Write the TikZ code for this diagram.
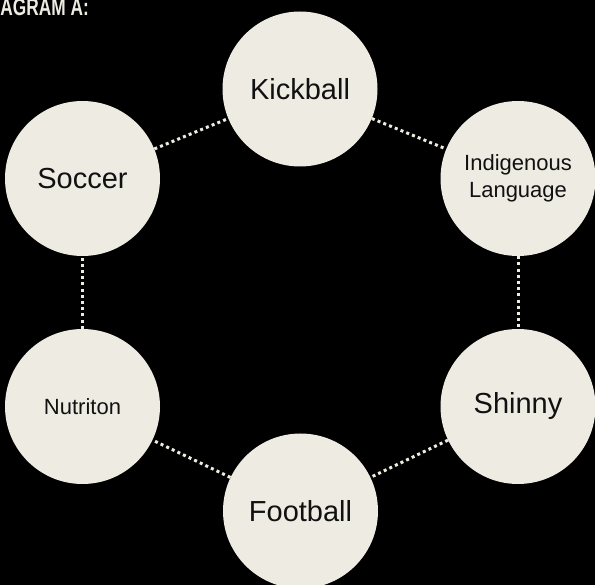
\documentclass[tikz,border=0pt]{standalone}
\usepackage{fontspec}
\setmainfont{Liberation Sans}
\definecolor{cream}{HTML}{EEECE2}
\definecolor{ink}{HTML}{111111}
\begin{document}
\begin{tikzpicture}[x=1pt,y=-1pt,
  bubble/.style={circle,fill=cream,draw=none,minimum size=155pt,inner sep=0pt,text=ink,align=center},
  big/.style={font=\fontsize{29}{33}\selectfont},
  small/.style={font=\fontsize{22}{27}\selectfont},
  dotline/.style={draw=cream,line width=3pt,dash pattern=on 3pt off 3.2pt}]
\fill[black] (0,0) rectangle (595,585);
\useasboundingbox (0,0) rectangle (595,585);
\clip (0,0) rectangle (595,585);
\node[anchor=base east,text=cream,inner sep=0pt,font=\fontsize{24}{24}\selectfont\bfseries] (title) at (89,15.5) {\scalebox{0.72}[1]{DIAGRAM A:}};
\node[bubble,big] (kick) at (300,89) {Kickball};
\node[bubble,big] (soccer) at (82.5,178.5) {Soccer};
\node[bubble,small] (indig) at (518,178.5) {Indigenous\\Language};
\node[bubble,small] (nutr) at (82.5,406.5) {Nutriton};
\node[bubble,big] (shinny) at (518,406.5) {Shinny};
\node[bubble,big] (foot) at (300.5,511) {Football};
\draw[dotline] (soccer) -- (kick);
\draw[dotline] (kick) -- (indig);
\draw[dotline] (indig) -- (shinny);
\draw[dotline] (shinny) -- (foot);
\draw[dotline] (foot) -- (nutr);
\draw[dotline] (nutr) -- (soccer);
\end{tikzpicture}
\end{document}
